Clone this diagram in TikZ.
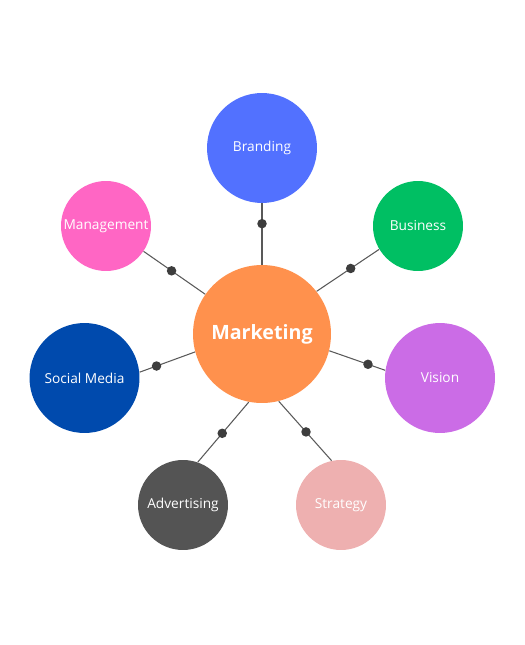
\documentclass[tikz,border=0pt]{standalone}
\usepackage{fontspec}
\setmainfont{Open Sans}
\usetikzlibrary{calc}

\definecolor{mkorange}{HTML}{FF914D}
\definecolor{brblue}{HTML}{5271FF}
\definecolor{bugreen}{HTML}{00BF63}
\definecolor{mgpink}{HTML}{FF66C4}
\definecolor{smblue}{HTML}{004AAD}
\definecolor{vipurple}{HTML}{CB6CE6}
\definecolor{adgrey}{HTML}{545454}
\definecolor{strose}{HTML}{EEB0B0}
\definecolor{linkgrey}{HTML}{595959}
\definecolor{dotgrey}{HTML}{3D3D3D}

\tikzset{
  hub/.style={circle, fill=mkorange, text=white, minimum size=2.76cm, inner sep=0pt,
    font=\fontsize{11.2}{13}\selectfont\bfseries},
  bigleaf/.style={circle, text=white, minimum size=2.2cm, inner sep=0pt,
    font=\fontsize{7.8}{9}\selectfont},
  smallleaf/.style={circle, text=white, minimum size=1.8cm, inner sep=0pt,
    font=\fontsize{7.8}{9}\selectfont},
  link/.style={draw=linkgrey, line width=0.6pt},
  knot/.style={circle, fill=dotgrey, minimum size=0.19cm, inner sep=0pt}
}

\begin{document}
\begin{tikzpicture}[x=0.02cm, y=-0.02cm]

\useasboundingbox (0,0) rectangle (524,645);

% centre
\node[hub] (mk) at (262,334) {Marketing};

% leaves
\node[bigleaf, fill=brblue] (br) at (262,148) {Branding};
\node[smallleaf, fill=bugreen] (bu) at (418,226) {Business};
\node[smallleaf, fill=mgpink] (mg) at (106,226) {Management};
\node[bigleaf, fill=smblue] (sm) at (84.5,378) {Social Media};
\node[bigleaf, fill=vipurple] (vi) at (440,378) {Vision};
\node[smallleaf, fill=adgrey] (ad) at (183,505) {Advertising};
\node[smallleaf, fill=strose] (st) at (341,505) {Strategy};

% links with a knot 41px out from the centre circle
\foreach \leaf/\from/\to in {br/90/-90, bu/38/-149.5, mg/145.6/-34,
  sm/-165/6.6, vi/-14.2/172.7, ad/-101.6/71.6, st/-76/102}
{
\draw[link] (mk.\from) -- (\leaf.\to);
\node[knot] (k-\leaf) at ($(mk.\from)!0.82cm!(\leaf.\to)$) {};
}

\end{tikzpicture}
\end{document}
